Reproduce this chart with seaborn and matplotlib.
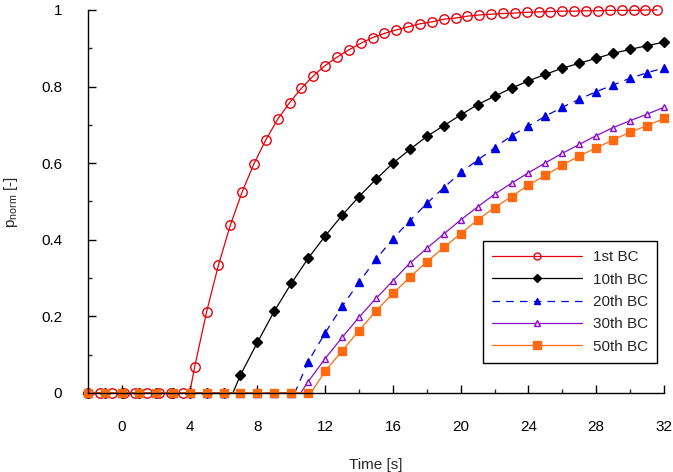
import numpy as np
import pandas as pd
import matplotlib
matplotlib.use("Agg")
import matplotlib.pyplot as plt
from matplotlib.lines import Line2D
from matplotlib.ticker import MultipleLocator, FuncFormatter
import seaborn as sns

# ---------------- data ----------------
t_1st = [-2.0, -1.3, -0.6, 0.1, 0.8, 1.5, 2.2, 2.9, 3.6,
         4.3, 5.0, 5.7, 6.4, 7.1, 7.8, 8.5, 9.2, 9.9, 10.6,
         11.3, 12.0, 12.7, 13.4, 14.1, 14.8, 15.5, 16.2, 16.9, 17.6,
         18.3, 19.0, 19.7, 20.4, 21.1, 21.8, 22.5, 23.2, 23.9, 24.6,
         25.3, 26.0, 26.7, 27.4, 28.1, 28.8, 29.5, 30.2, 30.9, 31.6]
p_1st = [0, 0, 0, 0, 0, 0, 0, 0, 0,
         0.069, 0.212, 0.334, 0.438, 0.525, 0.599, 0.661, 0.715, 0.758, 0.796,
         0.828, 0.855, 0.877, 0.896, 0.913, 0.928, 0.939, 0.948, 0.956, 0.964,
         0.969, 0.976, 0.979, 0.984, 0.987, 0.989, 0.991, 0.992, 0.994, 0.995,
         0.996, 0.997, 0.997, 0.998, 0.998, 0.999, 0.999, 0.999, 1.0, 1.0]

t_int = [-2, -1, 0, 1, 2, 3, 4, 5, 6, 7, 8, 9, 10, 11, 12, 13, 14, 15, 16,
         17, 18, 19, 20, 21, 22, 23, 24, 25, 26, 27, 28, 29, 30, 31, 32]
p_10th = [0, 0, 0, 0, 0, 0, 0, 0, 0,
          0.047, 0.132, 0.214, 0.286, 0.352, 0.410, 0.464, 0.513, 0.558, 0.600,
          0.636, 0.670, 0.698, 0.726, 0.753, 0.775, 0.796, 0.815, 0.832, 0.848,
          0.861, 0.874, 0.887, 0.897, 0.907, 0.916]
p_20th = [0, 0, 0, 0, 0, 0, 0, 0, 0, 0, 0, 0, 0,
          0.082, 0.157, 0.226, 0.289, 0.349, 0.403, 0.450, 0.495, 0.536, 0.576,
          0.608, 0.640, 0.672, 0.697, 0.723, 0.746, 0.767, 0.787, 0.804, 0.822,
          0.836, 0.849]
p_30th = [0, 0, 0, 0, 0, 0, 0, 0, 0, 0, 0, 0, 0,
          0.030, 0.090, 0.145, 0.198, 0.247, 0.293, 0.339, 0.378, 0.415, 0.452,
          0.486, 0.519, 0.548, 0.575, 0.601, 0.626, 0.649, 0.672, 0.693, 0.711,
          0.728, 0.746]
p_50th = [0, 0, 0, 0, 0, 0, 0, 0, 0, 0, 0, 0, 0, 0,
          0.057, 0.110, 0.163, 0.214, 0.260, 0.302, 0.343, 0.380, 0.416, 0.452,
          0.484, 0.513, 0.543, 0.568, 0.595, 0.619, 0.640, 0.661, 0.681, 0.698,
          0.717]

# time at which each curve leaves zero (line onset)
onset = {"1st BC": 4.0, "10th BC": 6.55, "20th BC": 10.2,
         "30th BC": 10.55, "50th BC": 11.15}

series_names = ["1st BC", "10th BC", "20th BC", "30th BC", "50th BC"]
series_t = [t_1st, t_int, t_int, t_int, t_int]
series_p = [p_1st, p_10th, p_20th, p_30th, p_50th]

colors = ["#E8000A", "#000000", "#0000E6", "#8A10C8", "#FF6A10"]
markers = ["o", "D", "^", "^", "s"]
msizes = [6.8, 4.6, 5.6, 5.0, 5.6]
mfaces = ["none", "#000000", "#0000E6", "#F0E0FF", "#FF6A10"]
dashed = [False, False, True, False, False]
leg_ms = [5.0, 3.8, 4.8, 4.2, 6.0]

# ---------------- style ----------------
sns.set_style("ticks")
plt.rcParams["font.family"] = ["Liberation Sans", "DejaVu Sans"]
plt.rcParams["mathtext.fontset"] = "custom"
plt.rcParams["mathtext.rm"] = "Liberation Sans"
plt.rcParams["mathtext.it"] = "Liberation Sans:italic"

fig = plt.figure(figsize=(6.73, 4.72), dpi=100)
ax = fig.add_axes([88 / 673, 1 - 393 / 472, 576 / 673, 383 / 472])

handles = []
for name, tt, pp, c, m, ms, mf, ds, lms in zip(series_names, series_t, series_p,
                                                colors, markers, msizes, mfaces,
                                                dashed, leg_ms):
    # line data with onset point inserted
    t0 = onset[name]
    lt = [x for x, y in zip(tt, pp) if y == 0 and x < t0] + [t0] + \
         [x for x, y in zip(tt, pp) if y > 0]
    lp = [0 for x, y in zip(tt, pp) if y == 0 and x < t0] + [0] + \
         [y for y in pp if y > 0]
    ls = (0, (6, 5)) if ds else "-"
    sns.lineplot(x=lt, y=lp, ax=ax, color=c, lw=0.9, linestyle=ls,
                 sort=False, estimator=None, legend=False)
    sns.lineplot(x=tt, y=pp, ax=ax, color=c, linestyle="none", marker=m,
                 markersize=ms, markerfacecolor=mf, markeredgecolor=c,
                 markeredgewidth=1.0, sort=False, estimator=None, legend=False)
    handles.append(Line2D([], [], color=c, lw=0.9, linestyle=ls, marker=m,
                          markersize=lms, markerfacecolor=mf,
                          markeredgecolor=c, markeredgewidth=1.0, label=name))

ax.set_xlim(-2, 32)
ax.set_ylim(0, 1)
ax.xaxis.set_major_locator(MultipleLocator(4))
ax.xaxis.set_minor_locator(MultipleLocator(2))
ax.yaxis.set_major_locator(MultipleLocator(0.2))
ax.yaxis.set_minor_locator(MultipleLocator(0.1))
ax.yaxis.set_major_formatter(FuncFormatter(lambda v, p: f"{v:g}"))
ax.xaxis.set_major_formatter(FuncFormatter(lambda v, p: f"{v:g}"))

for s in ["top", "right"]:
    ax.spines[s].set_visible(False)
for s in ["left", "bottom"]:
    ax.spines[s].set_linewidth(1.0)
    ax.spines[s].set_color("black")

ax.tick_params(axis="x", which="major", direction="in", length=6, width=1,
               pad=19.5, labelsize=11, colors="black")
ax.tick_params(axis="x", which="minor", direction="in", length=3, width=1)
ax.tick_params(axis="y", which="major", direction="in", length=6, width=1,
               pad=18.5, labelsize=11, colors="black")
ax.tick_params(axis="y", which="minor", direction="in", length=3, width=1)

ax.set_xlabel("Time [s]", fontsize=11, labelpad=17)
ax.set_ylabel(r"p$_{\mathrm{norm}}$ [-]", fontsize=11, labelpad=15)

leg = ax.legend(handles=handles, loc="upper left",
                bbox_to_anchor=(0.686, 0.397), borderaxespad=0,
                fontsize=11, handlelength=5.9, handletextpad=0.7,
                borderpad=0.6, labelspacing=0.55, fancybox=False,
                framealpha=1, edgecolor="black", numpoints=1)
leg.get_frame().set_linewidth(1.0)

for ln in ax.lines:
    ln.set_clip_on(False)

fig.savefig("out.png", dpi=100)
